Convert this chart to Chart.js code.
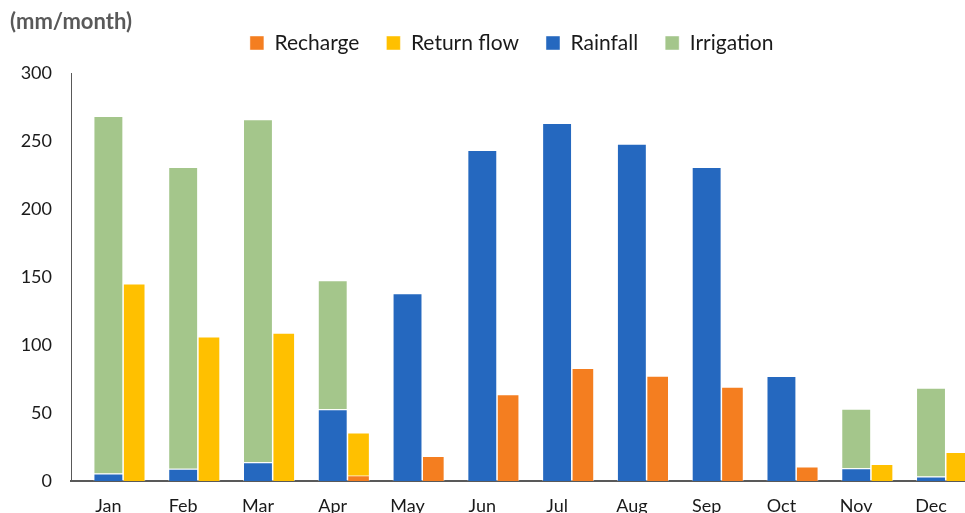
<!DOCTYPE html>
<html>
<head>
<meta charset="utf-8">
<script src="https://cdn.jsdelivr.net/npm/chart.js@4.4.1/dist/chart.umd.min.js"></script>
<style>
  html, body { margin: 0; padding: 0; background: #fff; overflow: hidden; }
  #wrap { width: 975px; height: 513px; }
</style>
</head>
<body>
<div id="wrap"><canvas id="chart" width="975" height="513"></canvas></div>
<script>
var months = ["Jan", "Feb", "Mar", "Apr", "May", "Jun", "Jul", "Aug", "Sep", "Oct", "Nov", "Dec"];
var yTicks = [0, 50, 100, 150, 200, 250, 300];
var unitLabel = "(mm/month)";

// mm/month (null = no bar)
var rainfall   = [5.6, 9.0, 13.7, 52.7, 138.0, 243.4, 263.2, 248.0, 230.9, 77.2, 9.3, 3.4];
var irrigation = [262.8, 221.9, 252.3, 94.9, null, null, null, null, null, null, 43.9, 65.2];
var recharge   = [null, null, null, 3.9, 18.1, 63.5, 82.8, 77.2, 69.1, 10.5, null, null];
var returnFlow = [144.9, 106.0, 108.8, 31.6, null, null, null, null, null, null, 12.3, 21.1];

var FONT = "Lato, 'Open Sans', sans-serif";
var TEXT = "#1a1a1a";
var SHIFT = 0.345; // right-hand bars sit this many categories right of the month centre

// recharge / return flow go on a hidden linear axis, one unit per month
function byIndex(values) {
  return values.map(function (v, i) { return { x: i, y: v }; });
}

var unitTitle = {
  id: "unitTitle",
  afterLayout: function (chart) {
    // nudge the legend a little left, like the original
    if (chart.legend) {
      chart.legend.left -= 8;
      chart.legend.right -= 8;
    }
  },
  afterDraw: function (chart) {
    var ctx = chart.ctx;
    ctx.save();
    ctx.font = "bold 22px " + FONT;
    ctx.fillStyle = "#595959";
    ctx.textBaseline = "middle";
    ctx.textAlign = "left";
    ctx.fillText(unitLabel, 10, 22);
    ctx.restore();
  }
};

var edge = "rgba(255,255,255,0.45)";

new Chart(document.getElementById("chart"), {
  type: "bar",
  data: {
    labels: months,
    datasets: [
      { label: "Recharge", data: byIndex(recharge), xAxisID: "x2", stack: "out",
        backgroundColor: "#F47E20", borderColor: edge, borderWidth: 1,
        grouped: false, barThickness: 22 },
      { label: "Return flow", data: byIndex(returnFlow), xAxisID: "x2", stack: "out",
        backgroundColor: "#FFC000", borderColor: edge, borderWidth: 1,
        grouped: false, barThickness: 22 },
      { label: "Rainfall", data: rainfall, xAxisID: "x", stack: "in",
        backgroundColor: "#2568BF", borderColor: edge, borderWidth: 1,
        grouped: false, categoryPercentage: 1, barPercentage: 0.4 },
      { label: "Irrigation", data: irrigation, xAxisID: "x", stack: "in",
        backgroundColor: "#A4C68B", borderColor: edge, borderWidth: 1,
        grouped: false, categoryPercentage: 1, barPercentage: 0.4 }
    ]
  },
  options: {
    responsive: false,
    animation: false,
    layout: { padding: { left: 10, right: 6.6, top: 5.5, bottom: 0 } },
    plugins: {
      tooltip: { enabled: false },
      legend: {
        position: "top",
        fullSize: false,
        labels: {
          boxWidth: 14, boxHeight: 14, padding: 27, color: TEXT,
          font: { family: FONT, size: 21 }
        }
      }
    },
    scales: {
      x: {
        type: "category",
        offset: true,
        grid: { display: false, drawTicks: false },
        border: { display: true, color: "#595959", width: 2 },
        ticks: { color: TEXT, font: { family: FONT, size: 18 }, padding: 14, maxRotation: 0, autoSkip: false },
        afterFit: function (s) { s.height = 32; }
      },
      x2: {
        type: "linear",
        position: "top",
        offset: false,
        min: -0.5 - SHIFT,
        max: months.length - 0.5 - SHIFT,
        grid: { display: false, drawTicks: false },
        border: { display: false },
        ticks: { display: false },
        afterFit: function (s) { s.height = 9.5; }
      },
      y: {
        stacked: true,
        min: yTicks[0],
        max: yTicks[yTicks.length - 1],
        grid: { display: false, drawTicks: false },
        border: { display: true, color: "#595959", width: 1 },
        ticks: { stepSize: yTicks[1] - yTicks[0], padding: 19, color: TEXT, font: { family: FONT, size: 18 } },
        afterFit: function (s) { s.width = 61; }
      }
    }
  },
  plugins: [unitTitle]
});
</script>
</body>
</html>
